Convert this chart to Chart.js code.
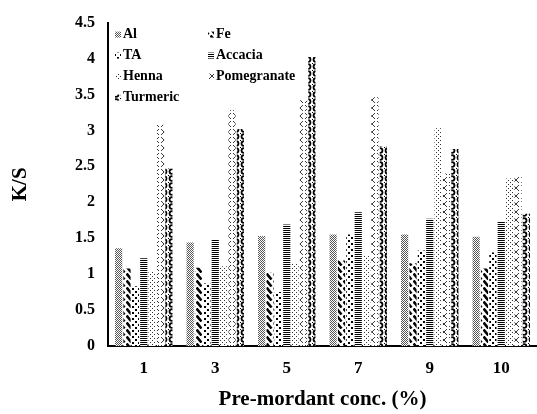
<!DOCTYPE html>
<html>
<head>
<meta charset="utf-8">
<script src="https://cdn.jsdelivr.net/npm/chart.js@4/dist/chart.umd.min.js"></script>
<style>
  html, body { margin: 0; padding: 0; background: #fff; }
  #wrap { width: 537px; height: 414px; }
</style>
</head>
<body>
<div id="wrap"><canvas id="c" width="537" height="414"></canvas></div>
<script>
// Pre-mordant concentrations (%)
const categories = ["1", "3", "5", "7", "9", "10"];

// K/S values per mordant
const seriesNames = ["Al", "Fe", "TA", "Accacia", "Henna", "Pomegranate", "Turmeric"];
const alValues          = [1.36, 1.44, 1.53, 1.55, 1.55, 1.52];
const feValues          = [1.08, 1.09, 1.02, 1.19, 1.15, 1.08];
const taValues          = [0.83, 0.87, 0.75, 1.55, 1.33, 1.30];
const accaciaValues     = [1.22, 1.48, 1.69, 1.86, 1.77, 1.73];
const hennaValues       = [1.04, 1.11, 1.15, 1.26, 3.03, 2.33];
const pomegranateValues = [3.08, 3.28, 3.42, 3.46, 2.40, 2.35];
const turmericValues    = [2.47, 3.02, 4.02, 2.78, 2.74, 1.84];

// y axis tick labels
const yTickLabels = ["0", "0.5", "1", "1.5", "2", "2.5", "3", "3.5", "4", "4.5"];

const FONT = "'Liberation Serif', 'Times New Roman', serif";

// ---- fill patterns ----
function makePattern(w, h, paint) {
  const cv = document.createElement('canvas');
  cv.width = w; cv.height = h;
  const g = cv.getContext('2d');
  g.fillStyle = '#fff';
  g.fillRect(0, 0, w, h);
  paint(g);
  return document.getElementById('c').getContext('2d').createPattern(cv, 'repeat');
}
const patterns = {
  Al: makePattern(2, 2, g => {
    g.fillStyle = '#555';
    g.fillRect(0, 0, 1, 1); g.fillRect(1, 1, 1, 1);
  }),
  Fe: makePattern(7, 7, g => {
    g.strokeStyle = '#000'; g.lineWidth = 2.6; g.lineCap = 'butt';
    g.beginPath(); g.moveTo(0.5, 0.5); g.lineTo(5.5, 6.5); g.stroke();
  }),
  TA: makePattern(6, 6, g => {
    g.fillStyle = '#000';
    g.fillRect(0, 0, 2, 2); g.fillRect(3, 3, 2, 2);
  }),
  Accacia: makePattern(2, 2, g => {
    g.fillStyle = '#000';
    g.fillRect(0, 0, 2, 1);
  }),
  Henna: makePattern(4, 4, g => {
    g.fillStyle = '#333';
    g.fillRect(0, 0, 1, 1); g.fillRect(2, 2, 1, 1);
  }),
  Pomegranate: makePattern(8, 8, g => {
    g.strokeStyle = '#222'; g.lineWidth = 0.9;
    g.beginPath();
    g.moveTo(1, 1); g.lineTo(7, 7);
    g.moveTo(7, 1); g.lineTo(1, 7);
    g.stroke();
  }),
  Turmeric: makePattern(8, 7, g => {
    g.fillStyle = '#000';
    g.beginPath(); g.arc(4, 3.5, 3.3, 0, Math.PI * 2); g.fill();
    g.fillStyle = '#fff';
    g.beginPath(); g.arc(4, 3.5, 1.5, 0, Math.PI * 2); g.fill();
    g.fillStyle = '#000';
    g.fillRect(0, 0, 1, 1);
  })
};

const seriesValues = [alValues, feValues, taValues, accaciaValues, hennaValues, pomegranateValues, turmericValues];

const datasets = seriesNames.map((name, i) => ({
  label: name,
  data: seriesValues[i],
  backgroundColor: patterns[name],
  borderWidth: 0,
  barPercentage: 0.86,
  categoryPercentage: 0.82
}));

// legend drawn inside the plot area, two columns
const insideLegend = {
  id: 'insideLegend',
  afterDraw(chart) {
    const ctx = chart.ctx;
    const a = chart.chartArea;
    ctx.save();
    ctx.font = 'bold 14px ' + FONT;
    ctx.textBaseline = 'middle';
    chart.data.datasets.forEach((ds, i) => {
      const col = i % 2, row = Math.floor(i / 2);
      const x = a.left + 7 + col * 93;
      const y = a.top + 12 + row * 21;
      ctx.fillStyle = ds.backgroundColor;
      ctx.fillRect(x, y - 3, 6, 6);
      ctx.fillStyle = '#000';
      ctx.fillText(ds.label, x + 8, y);
    });
    ctx.restore();
  }
};

new Chart(document.getElementById('c'), {
  type: 'bar',
  data: { labels: categories, datasets },
  plugins: [insideLegend],
  options: {
    responsive: false,
    animation: false,
    layout: { padding: { left: 0, right: 0, top: 13, bottom: 0 } },
    plugins: {
      legend: { display: false },
      tooltip: { enabled: false }
    },
    scales: {
      x: {
        grid: { display: false, drawTicks: false },
        border: { display: true, color: '#000', width: 2 },
        ticks: {
          color: '#000',
          font: { family: FONT, size: 17, weight: 'bold' },
          padding: 12
        },
        title: {
          display: true,
          text: 'Pre-mordant conc. (%)',
          color: '#000',
          font: { family: FONT, size: 21, weight: 'bold' },
          padding: { top: 4, bottom: 2 }
        },
        afterFit(s) { s.height = 68; }
      },
      y: {
        min: 0,
        max: 4.5,
        grid: { display: false, drawTicks: false },
        border: { display: true, color: '#000', width: 2 },
        ticks: {
          stepSize: 0.5,
          color: '#000',
          font: { family: FONT, size: 16, weight: 'bold' },
          padding: 13,
          callback: (v, i) => yTickLabels[i]
        },
        title: {
          display: true,
          text: 'K/S',
          color: '#000',
          font: { family: FONT, size: 21, weight: 'bold' },
          padding: { top: 8, bottom: 4 }
        },
        afterFit(s) { s.width = 108; }
      }
    }
  }
});
</script>
</body>
</html>
